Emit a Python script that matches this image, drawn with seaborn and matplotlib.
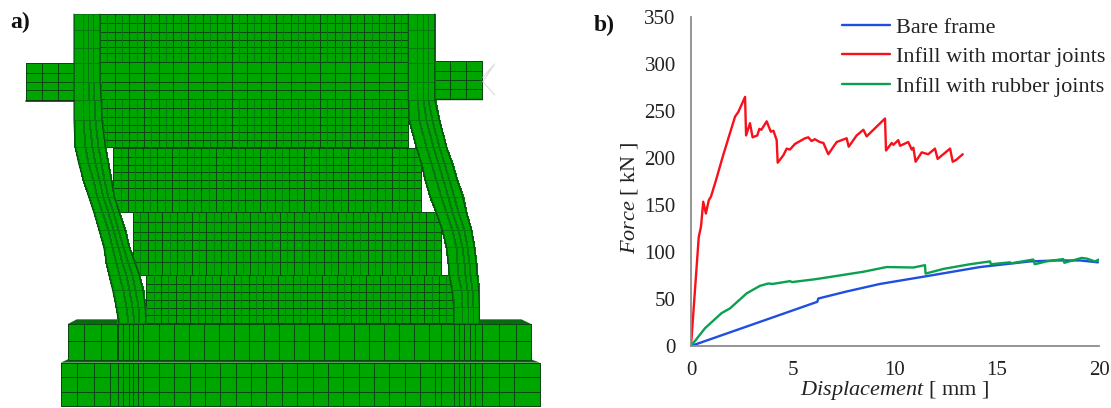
import numpy as np
import pandas as pd
import matplotlib
matplotlib.use("Agg")
import matplotlib.pyplot as plt
from matplotlib.colors import ListedColormap
import seaborn as sns

# panel b values
bare_x = [0, 6.19, 6.24, 7.63, 9.26, 11.47, 14.17, 16.62, 17.93, 19.07, 19.95]
bare_y = [0, 47, 50.5, 58, 66, 74, 84, 90, 91, 91, 89]

mortar_x = [0, 0.38, 0.4, 0.49, 0.6, 0.73, 0.87, 0.98, 1.22, 1.55, 1.96, 2.16, 2.32, 2.65, 2.70, 2.89, 3.02, 3.25, 3.35, 3.45,
            3.71, 3.91, 4.04, 4.2, 4.25, 4.53, 4.69, 4.85, 5.1, 5.59, 5.75, 5.91, 6.07, 6.31, 6.49, 6.73, 7.14, 7.63, 7.73, 8.12,
            8.45, 8.61, 9.51, 9.56, 9.84, 9.92, 10.16, 10.25, 10.65, 10.82, 10.9, 11.01, 11.31, 11.63, 11.96,
            12.09, 12.7, 12.83, 13.0, 13.32]
mortar_y = [0, 116, 118, 127, 153.5, 141, 155, 159, 176, 201, 230, 244, 249, 265, 224, 237, 222, 224, 231, 230,
            239, 228, 229, 219, 195, 203, 210, 209, 215, 221, 222, 218, 220, 217, 216, 204, 217, 221, 212, 224,
            230, 223, 242, 208, 216, 214, 219, 213, 217, 209, 211, 196, 206, 204, 210,
            199, 210, 196, 198, 204]

rubber_x = [0, 0.69, 1.5, 1.91, 2.73, 3.38, 3.79, 4.0, 4.85, 4.95, 6.08, 6.98, 8.45, 9.59, 10.9, 11.47, 11.5,
            12.37, 13.68, 14.66, 14.7, 15.64, 15.7, 16.78, 16.85, 17.43, 18.25, 18.3, 19.15, 19.4, 19.8, 20]
rubber_y = [0, 19, 35, 40, 56, 64, 66.5, 66, 69, 68, 71, 74, 79, 84, 83.5, 86, 77,
            82, 87, 90, 87, 89, 88, 92, 87, 90, 92.5, 88.5, 93.7, 93, 90, 92]

series_names = ["Bare frame", "Infill with mortar joints", "Infill with rubber joints"]
series_colors = ["#1f4fe0", "#f8101a", "#0ba04f"]

x_ticks = [0, 5, 10, 15, 20]
y_ticks = [0, 50, 100, 150, 200, 250, 300, 350]

# panel a mesh outlines, x is 2.8 and y is 3 units per pixel
green = "#00a600"
mesh_line = "#0a4a12"
soft_line = "#067a10"
top_rows = [42, 69, 96, 120, 141, 159, 186]
band_rows = [186, 219, 246, 270, 297]
low_rows = [297, 324, 351, 375, 396, 420, 441]
wall1_rows = [443, 472, 495, 516, 540, 564, 600, 635]
wall2_rows = [635, 666, 696, 720, 750, 786, 825]
wall3_rows = [825, 852, 876, 900, 924, 945, 970]
col_nodes = [42, 90, 145, 188, 245, 300, 360, 440, 490, 540, 590, 635, 690, 740, 790, 825, 870, 920, 970]
left_outer = [207, 207, 207, 207, 207, 207, 207, 210, 220, 233, 248, 262, 277, 290, 298, 305, 315, 325, 332]
left_inner = [280, 280, 280, 280, 280, 283, 285, 295, 303, 312, 320, 333, 350, 362, 378, 390, 400, 406, 408]
right_inner = [1143, 1143, 1143, 1143, 1143, 1143, 1145, 1165, 1180, 1190, 1205, 1220, 1238, 1250, 1255, 1258, 1265, 1270, 1270]
right_outer = [1217, 1217, 1217, 1217, 1217, 1217, 1230, 1250, 1265, 1280, 1295, 1305, 1320, 1328, 1333, 1336, 1340, 1342, 1342]
col_split = [0, 0.33, 0.55, 0.75, 1]
stub_rows = [188, 218, 245, 270, 300]
left_stub_cols = [73, 118, 162, 207]
right_stub_cols = [1217, 1260, 1305, 1350]
base1_rows = [972, 1024, 1080]
base2_rows = [1088, 1132, 1176, 1218]
base_dense_l = [330, 345, 360, 372, 385, 400]
base_dense_r = [1235, 1270, 1285, 1300, 1315, 1330, 1350]


def mesh(ax, xs, ys, lw=0.7):
    X, Y = np.meshgrid(xs, ys)
    ax.pcolormesh(X, Y, np.zeros((len(ys) - 1, len(xs) - 1)), cmap=ListedColormap([green]),
                  edgecolors=mesh_line, linewidth=lw)


def wall(ax, x0, x1, ys, n=21):
    xs = np.linspace(x0, x1, n + 1)
    mesh(ax, xs, ys)
    ax.vlines((xs[:-1] + xs[1:]) / 2, ys[0], ys[-1], color=soft_line, lw=0.7)


def column(ax, outer, inner, nodes):
    outer = np.array(outer)
    inner = np.array(inner)
    X = np.array([outer + s * (inner - outer) for s in col_split]).T
    Y = np.tile(np.array(nodes)[:, None], (1, len(col_split)))
    ax.pcolormesh(X, Y, np.zeros((len(nodes) - 1, len(col_split) - 1)), cmap=ListedColormap([green]),
                  edgecolors=soft_line, linewidth=0.7, shading="flat")
    ax.plot(outer, nodes, color=mesh_line, lw=0.7)
    ax.plot(inner, nodes, color=mesh_line, lw=0.7)


sns.set_style("white")
plt.rcParams["font.family"] = ["Liberation Serif", "DejaVu Serif"]
plt.rcParams["mathtext.fontset"] = "custom"
plt.rcParams["mathtext.it"] = "Liberation Serif:italic"
plt.rcParams["mathtext.rm"] = "Liberation Serif"

fig = plt.figure(figsize=(11.11, 4.08), dpi=100)

# panel a
ax_a = fig.add_axes([0, 0, 1, 1])
ax_a.set_xlim(0, 1111 * 2.8)
ax_a.set_ylim(1224, 0)
ax_a.axis("off")

wall(ax_a, 280, 1143, top_rows)
mesh(ax_a, np.linspace(280, 1143, 22), band_rows)
wall(ax_a, 280, 1143, low_rows)
wall(ax_a, 317, 1180, wall1_rows)
wall(ax_a, 372, 1235, wall2_rows)
wall(ax_a, 410, 1270, wall3_rows)
mesh(ax_a, left_stub_cols, stub_rows)
mesh(ax_a, right_stub_cols, [r - 4 for r in stub_rows])
column(ax_a, left_outer, left_inner, col_nodes)
column(ax_a, right_inner, right_outer, col_nodes)

ax_a.plot([73, 207], [302, 302], color="#123312", lw=1.2)
ax_a.plot([1217, 1350], [298, 298], color="#123312", lw=1.0)
ax_a.fill([190, 215, 330, 330, 190], [972, 958, 958, 972, 972], color="#0a6a12", lw=0)
ax_a.fill([1342, 1460, 1487, 1342], [958, 958, 972, 972], color="#0a6a12", lw=0)
ax_a.fill([170, 190, 1487, 1512], [1088, 1078, 1078, 1088], color="#0a6a12", lw=0)
mesh(ax_a, np.r_[np.arange(190, 330, 46), base_dense_l, np.arange(445, 1235, 42), base_dense_r, [1397, 1445, 1487]], base1_rows)
mesh(ax_a, np.r_[np.arange(170, 330, 46), base_dense_l, np.arange(445, 1235, 43), base_dense_r, [1397, 1440, 1512]], base2_rows)

ax_a.plot([1352, 1385, 1352, 1385], [232, 192, 245, 285], color="#dcdcdc", lw=0.8)
ax_a.text(30, 66, "a)", fontsize=17, fontweight="bold", va="center", ha="left", color="#111111")

# panel b
ax = fig.add_axes([691 / 1111, 62 / 408, 408 / 1111, 329 / 408])
ax.patch.set_alpha(0)

curves = pd.concat([
    pd.DataFrame({"x": bare_x, "y": bare_y, "case": series_names[0]}),
    pd.DataFrame({"x": mortar_x, "y": mortar_y, "case": series_names[1]}),
    pd.DataFrame({"x": rubber_x, "y": rubber_y, "case": series_names[2]}),
])

sns.lineplot(data=curves, x="x", y="y", hue="case", hue_order=series_names,
             palette=series_colors, estimator=None, sort=False, lw=1.7, ax=ax)

ax.set_xlim(0, 20)
ax.set_ylim(0, 350)
ax.set_xticks(x_ticks)
ax.set_yticks(y_ticks)
ax.tick_params(axis="both", length=0, labelsize=15, labelcolor="#222222")
ax.tick_params(axis="x", pad=11)
ax.tick_params(axis="y", pad=11)
sns.despine(ax=ax)
for side in ["left", "bottom"]:
    ax.spines[side].set_color("#8c8c8c")
    ax.spines[side].set_linewidth(1.3)

ax.set_xlabel(r"$\mathit{Displacement}$ [ mm ]", fontsize=16, color="#222222", va="center")
ax.set_ylabel(r"$\mathit{Force}$ [ kN ]", fontsize=16, color="#222222", va="center")
ax.xaxis.set_label_coords(0.5, -0.134)
ax.yaxis.set_label_coords(-0.15, 0.451)

handles, labels = ax.get_legend_handles_labels()
ax.legend(handles, labels, frameon=False, fontsize=16, loc="upper left", bbox_to_anchor=(0.369, 1.0),
          handlelength=2.2, handletextpad=0.27, labelspacing=0.41, borderaxespad=0, borderpad=0,
          labelcolor="#222222")

fig.text(594 / 1111, 1 - 25 / 408, "b)", fontsize=17, fontweight="bold", va="center", ha="left", color="#111111")

fig.savefig("out.png", dpi=100)
